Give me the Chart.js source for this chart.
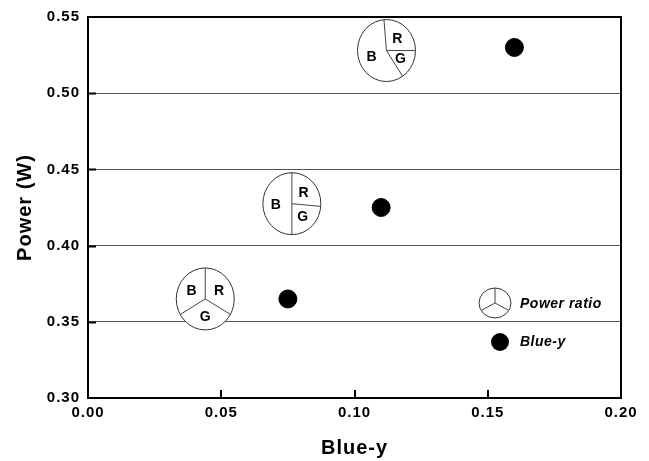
<!DOCTYPE html>
<html>
<head>
<meta charset="utf-8">
<script src="https://cdn.jsdelivr.net/npm/chart.js@4.4.0/dist/chart.umd.min.js"></script>
<style>
  body { margin: 0; background: #fff; }
  #wrap { width: 649px; height: 461px; }
</style>
</head>
<body>
<div id="wrap"><canvas id="my-chart" width="649" height="461"></canvas></div>
<script>
// Blue-y measurements
const blueY = [0.075, 0.11, 0.16];
const power = [0.365, 0.425, 0.53];

// power ratio pies (centre in axis units, slice fractions R, G, B clockwise)
const pieX = [0.044, 0.0765, 0.112];
const pieY = [0.365, 0.4275, 0.528];
const ratioR = [0.333, 0.264, 0.264];
const ratioG = [0.333, 0.236, 0.156];
const ratioB = [0.334, 0.500, 0.580];
const pieStartDeg = [0, 0, -5];

const xTicks = [0.00, 0.05, 0.10, 0.15, 0.20];
const yTicks = [0.30, 0.35, 0.40, 0.45, 0.50, 0.55];

const FONT = 'Liberation Sans, Arial, sans-serif';

function drawPie(ctx, cx, cy, rx, ry, fracs, labels, startDeg) {
    ctx.save();
    ctx.beginPath();
    ctx.ellipse(cx, cy, rx, ry, 0, 0, Math.PI * 2);
    ctx.fillStyle = '#fff';
    ctx.fill();
    ctx.lineWidth = 1;
    ctx.strokeStyle = '#333';
    ctx.stroke();

    let a = startDeg * Math.PI / 180;
    ctx.font = 'bold 14px ' + FONT;
    ctx.fillStyle = '#000';
    ctx.textAlign = 'center';
    ctx.textBaseline = 'middle';
    ctx.letterSpacing = '0px';
    fracs.forEach((f, i) => {
        // clockwise from 12 o'clock
        ctx.beginPath();
        ctx.moveTo(cx, cy);
        ctx.lineTo(cx + rx * Math.sin(a), cy - ry * Math.cos(a));
        ctx.strokeStyle = '#444';
        ctx.stroke();
        const mid = a + f * Math.PI;
        if (labels) {
            ctx.fillText(labels[i], cx + 0.55 * rx * Math.sin(mid), cy - 0.55 * ry * Math.cos(mid) + 1);
        }
        a += f * Math.PI * 2;
    });
    ctx.restore();
}

const extras = {
    id: 'extras',
    beforeDraw(chart) {
        chart.ctx.letterSpacing = '1px';
    },
    afterDatasetsDraw(chart) {
        const {ctx, chartArea: ca, scales: {x, y}} = chart;
        ctx.save();
        // top and right frame
        ctx.strokeStyle = '#000';
        ctx.lineWidth = 2;
        ctx.beginPath();
        ctx.moveTo(ca.left, ca.top);
        ctx.lineTo(ca.right, ca.top);
        ctx.lineTo(ca.right, ca.bottom);
        ctx.stroke();
        // inward tick marks
        ctx.beginPath();
        xTicks.slice(1, -1).forEach(v => {
            const px = Math.round(x.getPixelForValue(v));
            ctx.moveTo(px, ca.bottom);
            ctx.lineTo(px, ca.bottom - 8);
        });
        yTicks.slice(1, -1).forEach(v => {
            const py = Math.round(y.getPixelForValue(v)) + 0.5;
            ctx.moveTo(ca.left, py);
            ctx.lineTo(ca.left + 8, py);
        });
        ctx.stroke();
        ctx.restore();

        pieX.forEach((v, i) => {
            drawPie(ctx, x.getPixelForValue(v), y.getPixelForValue(pieY[i]), 29, 31,
                [ratioR[i], ratioG[i], ratioB[i]], ['R', 'G', 'B'], pieStartDeg[i]);
        });

        // legend
        const lx = ca.right - 126;
        drawPie(ctx, lx, ca.top + 286, 16, 15, [1 / 3, 1 / 3, 1 / 3], null, 0);
        ctx.save();
        ctx.beginPath();
        ctx.arc(lx + 5, ca.top + 325, 9, 0, Math.PI * 2);
        ctx.fillStyle = '#000';
        ctx.fill();
        ctx.font = 'italic bold 14px ' + FONT;
        ctx.letterSpacing = '0.5px';
        ctx.textBaseline = 'middle';
        ctx.fillText('Power ratio', lx + 25, ca.top + 287);
        ctx.fillText('Blue-y', lx + 25, ca.top + 325);
        ctx.restore();
    }
};

new Chart(document.getElementById('my-chart').getContext('2d'), {
    type: 'scatter',
    data: {
        datasets: [{
            label: 'Blue-y',
            data: blueY.map((v, i) => ({x: v, y: power[i]})),
            backgroundColor: '#000',
            borderColor: '#000',
            pointRadius: 9,
            pointHoverRadius: 9
        }]
    },
    options: {
        responsive: false,
        animation: false,
        layout: {padding: {top: 16, right: 28, left: 0, bottom: 0}},
        scales: {
            x: {
                min: 0, max: 0.2,
                afterFit: s => { s.height = 63; },
                afterBuildTicks: s => { s.ticks = xTicks.map(v => ({value: v})); },
                ticks: {
                    color: '#000', padding: 6,
                    font: {family: FONT, size: 15, weight: 'bold'},
                    callback: v => v.toFixed(2)
                },
                grid: {display: false, drawTicks: false},
                border: {display: true, color: '#000', width: 2},
                title: {
                    display: true, text: 'Blue-y', color: '#000',
                    font: {family: FONT, size: 20, weight: 'bold'},
                    padding: {top: 0, bottom: 1}
                }
            },
            y: {
                min: 0.3, max: 0.55,
                afterFit: s => { s.width = 88; },
                afterBuildTicks: s => { s.ticks = yTicks.map(v => ({value: v})); },
                ticks: {
                    color: '#000', padding: 8,
                    font: {family: FONT, size: 15, weight: 'bold'},
                    callback: v => v.toFixed(2)
                },
                grid: {
                    drawTicks: false,
                    color: c => (c.tick && c.tick.value > 0.32 && c.tick.value < 0.53) ? '#555' : 'rgba(0,0,0,0)',
                    lineWidth: 1
                },
                border: {display: true, color: '#000', width: 2},
                title: {
                    display: true, text: 'Power (W)', color: '#000',
                    font: {family: FONT, size: 20, weight: 'bold'},
                    padding: {top: 13, bottom: 0}
                }
            }
        },
        plugins: {
            legend: {display: false},
            tooltip: {enabled: false}
        }
    },
    plugins: [extras]
});
</script>
</body>
</html>
